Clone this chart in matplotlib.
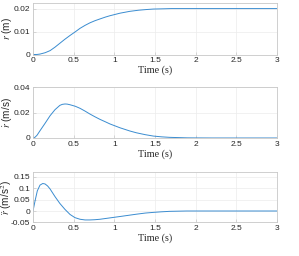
import matplotlib
matplotlib.use("Agg")
import matplotlib.pyplot as plt

# Data
t_r = [0.0, 0.05, 0.086, 0.15, 0.21, 0.27, 0.33, 0.39, 0.455, 0.52, 0.578, 0.64, 0.70, 0.76, 0.824, 0.89, 0.947, 1.07, 1.19, 1.30, 1.40, 1.48, 1.6, 1.7, 2.0, 2.5, 3.0]
r = [0.0, 0.00003, 0.0002, 0.0008, 0.0017, 0.0032, 0.0049, 0.0066, 0.0083, 0.0099, 0.0114, 0.0127, 0.0138, 0.0147, 0.0155, 0.0163, 0.0169, 0.0180, 0.0188, 0.0193, 0.0196, 0.0198, 0.0199, 0.0200, 0.0200, 0.0200, 0.0200]

t_v = [0.0, 0.025, 0.05, 0.086, 0.148, 0.21, 0.27, 0.33, 0.36, 0.393, 0.42, 0.455, 0.52, 0.578, 0.64, 0.70, 0.76, 0.824, 0.89, 0.947, 1.07, 1.19, 1.27, 1.38, 1.48, 1.58, 1.68, 1.9, 2.2, 2.5, 3.0]
v = [0.0, 0.0006, 0.0022, 0.0057, 0.0115, 0.0175, 0.0222, 0.0256, 0.0264, 0.0267, 0.0266, 0.0261, 0.0249, 0.0233, 0.0211, 0.0188, 0.0167, 0.0146, 0.0127, 0.0110, 0.0080, 0.0055, 0.0041, 0.0026, 0.0015, 0.0009, 0.0005, 0.0001, 0.0, 0.0, 0.0]

t_a = [0.0, 0.025, 0.053, 0.086, 0.12, 0.148, 0.18, 0.21, 0.27, 0.33, 0.393, 0.455, 0.516, 0.578, 0.64, 0.70, 0.76, 0.824, 0.947, 1.07, 1.19, 1.27, 1.38, 1.48, 1.58, 1.68, 1.89, 2.2, 2.5, 3.0]
a = [0.0, 0.044, 0.088, 0.113, 0.120, 0.118, 0.109, 0.096, 0.063, 0.033, 0.007, -0.015, -0.029, -0.036, -0.039, -0.039, -0.038, -0.036, -0.030, -0.024, -0.018, -0.014, -0.009, -0.006, -0.0035, -0.0015, 0.0, 0.0, 0.0, 0.0]

xticks = [0, 0.5, 1, 1.5, 2, 2.5, 3]
xticklabels = ["0", "0.5", "1", "1.5", "2", "2.5", "3"]
yticks1 = [0, 0.01, 0.02]
yticks2 = [0, 0.02, 0.04]
yticks3 = [-0.05, 0, 0.05, 0.1, 0.15]
ylabels = [r"$r$ (m)", r"$\dot{r}$ (m/s)", r"$\ddot{r}$ (m/s$^2$)"]
xlabel = "Time (s)"

plt.rcParams["mathtext.fontset"] = "stix"
plt.rcParams["font.family"] = ["Liberation Sans", "DejaVu Sans"]

fig = plt.figure(figsize=(2.99, 2.56), dpi=100)
fig.patch.set_facecolor("white")

positions = [
    [0.1104, 0.787, 0.816, 0.201],
    [0.1104, 0.461, 0.816, 0.199],
    [0.1104, 0.131, 0.816, 0.197],
]
series = [(t_r, r, yticks1, (0, 0.0224)),
          (t_v, v, yticks2, (0, 0.04)),
          (t_a, a, yticks3, (-0.05, 0.17))]

for pos, (tt, yy, yt, yl), lab in zip(positions, series, ylabels):
    ax = fig.add_axes(pos)
    ax.plot(tt, yy, color="#3a8cd0", lw=0.7)
    ax.set_xlim(0, 3)
    ax.set_ylim(*yl)
    ax.set_xticks(xticks)
    ax.set_xticklabels(xticklabels)
    ax.set_yticks(yt)
    ax.set_yticklabels([("%g" % v_) for v_ in yt])
    ax.grid(True, color="#ececec", lw=0.5)
    ax.set_axisbelow(True)
    for s in ax.spines.values():
        s.set_color("#c8c8c8")
        s.set_linewidth(0.6)
    ax.tick_params(direction="in", length=2, width=0.5, color="#c8c8c8",
                   labelsize=6, labelcolor="#262626", pad=2,
                   top=False, right=False)
    ax.set_xlabel(xlabel, family="serif", fontname="Liberation Serif",
                  fontsize=7.3, color="#262626", labelpad=1)
    ax.set_ylabel(lab, fontsize=7.2, color="#262626", va="center")
    ax.yaxis.set_label_coords(-0.108, 0.5)

fig.savefig("out.png", dpi=100)
